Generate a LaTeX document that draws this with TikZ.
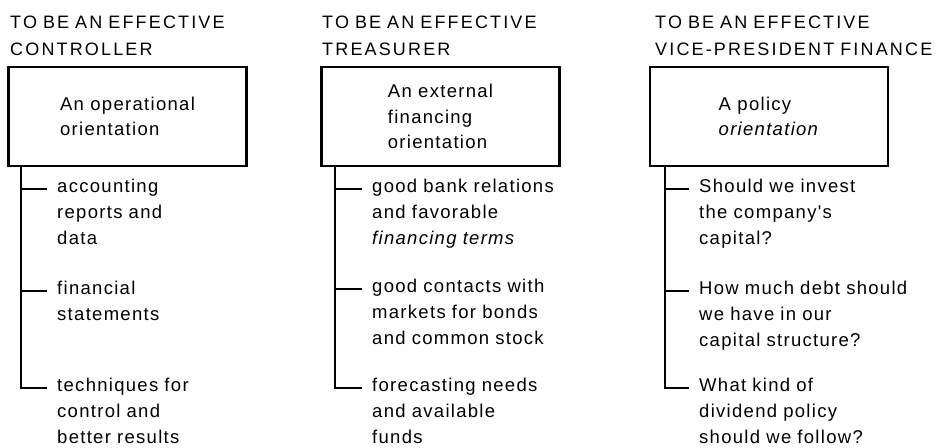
\documentclass[tikz,border=0pt]{standalone}
\usepackage{fontspec}
\setmainfont{Liberation Sans}
\newfontfamily\headfont[LetterSpace=12]{Liberation Sans}
\newfontfamily\bodyfont[LetterSpace=7]{Liberation Sans}
\usetikzlibrary{positioning}

\begin{document}
\begin{tikzpicture}[x=1pt, y=-1pt,
    heading/.style={anchor=base west, inner sep=0pt, text width=300pt, align=left,
        font=\headfont\fontsize{18}{27}\selectfont},
    orientbox/.style={draw, line width=2.7pt, minimum width=238pt, minimum height=99pt,
        align=left, font=\bodyfont\fontsize{18.5}{25.5}\selectfont},
    item/.style={anchor=base west, inner xsep=10pt, inner ysep=0pt, text width=220pt,
        align=left, font=\bodyfont\fontsize{18.5}{26}\selectfont},
    tree/.style={line width=2pt}]
                \useasboundingbox (0,0) rectangle (936,447);

                % 1. Tieu de cac cot
                \node[heading] (ctlT) at (10,28) {TO BE AN EFFECTIVE\\CONTROLLER};
                \node[heading] (trsT) at (322,28) {TO BE AN EFFECTIVE\\TREASURER};
                \node[heading] (vpfT) at (655,28) {TO BE AN EFFECTIVE\\VICE-PRESIDENT FINANCE};

                % 2. Cac khung dinh huong
                \node[orientbox] (ctl) at (127.5,116.5) {An operational\\orientation};
                \node[orientbox] (trs) at (440.5,116.5) {An external\\financing\\orientation};
                \node[orientbox] (vpf) at (769,116.5) {A policy\\\textit{orientation}};

                \coordinate (ctlS) at ([xshift=14pt]ctl.south west);
                \coordinate (trsS) at ([xshift=15pt]trs.south west);
                \coordinate (vpfS) at ([xshift=16pt]vpf.south west);

                % 3. Cac nhanh
                \node[item] (ctlA) at (47,192) {accounting\\reports and\\data};
                \node[item] (ctlB) at (47,294) {financial\\statements};
                \node[item] (ctlC) at (47,391) {techniques for\\control and\\better results};

                \node[item] (trsA) at (362,192) {good bank relations\\and favorable\\\textit{financing terms}};
                \node[item] (trsB) at (362,292) {good contacts with\\markets for bonds\\and common stock};
                \node[item] (trsC) at (362,391) {forecasting needs\\and available\\funds};

                \node[item] (vpfA) at (689,192) {Should we invest\\the company's\\capital?};
                \node[item] (vpfB) at (689,294) {How much debt should\\we have in our\\capital structure?};
                \node[item] (vpfC) at (689,391) {What kind of\\dividend policy\\should we follow?};

                % 4. Duong noi
                \foreach \c in {ctl,trs,vpf} {
                    \draw[tree] (\c S) |- (\c C.mid west);
                    \foreach \i in {A,B}
                        \draw[tree] (\c\i.mid west) -- (\c\i.mid west -| \c S);
                }
\end{tikzpicture}
\end{document}
